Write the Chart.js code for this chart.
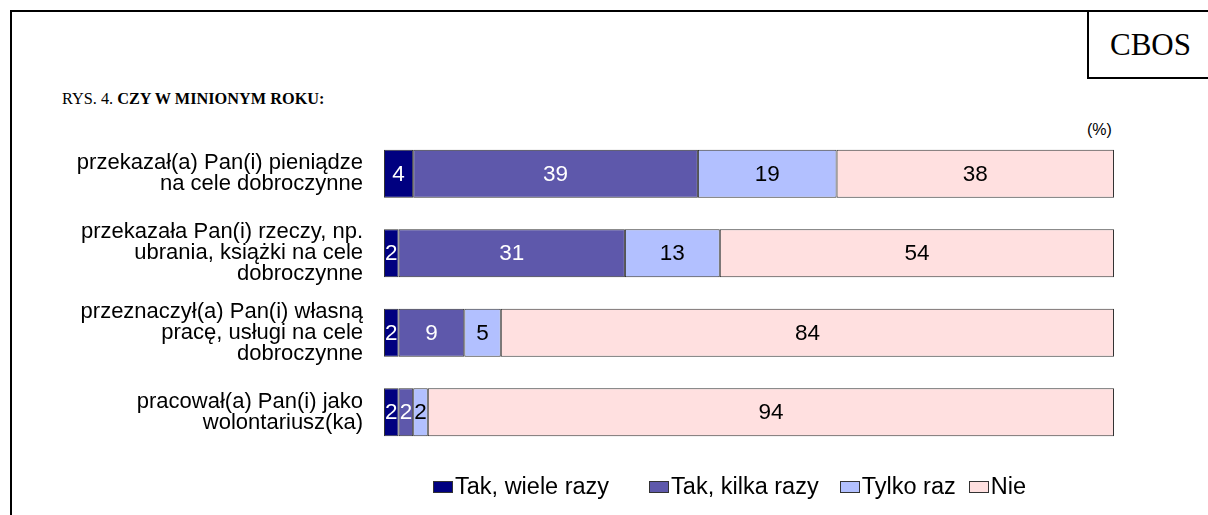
<!DOCTYPE html>
<html>
<head>
<meta charset="utf-8">
<script src="https://cdn.jsdelivr.net/npm/chart.js@4"></script>
<style>
   html, body { margin: 0; padding: 0; background: #fff; }
   body { width: 1208px; height: 515px; position: relative; overflow: hidden; }
   .frame { position: absolute; left: 10px; top: 10px; width: 1300px; height: 600px; border: 2px solid #000; }
   .cbos { position: absolute; left: 1087px; top: 10px; width: 200px; height: 65px; border: 2px solid #000;
           font-family: "Liberation Serif", "Times New Roman", serif; font-size: 31px; line-height: 65px; padding-left: 21px; }
   .title { position: absolute; left: 62px; top: 89px; font-family: "Liberation Serif", "Times New Roman", serif; font-size: 16.3px; }
   .unit { position: absolute; left: 1087px; top: 121px; font-family: "Liberation Sans", Arial, sans-serif; font-size: 16px; }
   #chart { position: absolute; left: 0; top: 0; }
   #legend { position: absolute; left: 433px; top: 474px; display: flex; align-items: center;
             font-family: "Liberation Sans", Arial, sans-serif; font-size: 23.5px; line-height: 25px; color: #000; }
   #legend .item { display: flex; align-items: center; }
   #legend .box { width: 18px; height: 10px; border: 1px solid #333; margin-right: 2px; }
</style>
</head>
<body>
<div class="frame"></div>
<div class="cbos">CBOS</div>
<div class="title">RYS. 4. <b>CZY W MINIONYM ROKU:</b></div>
<div class="unit">(%)</div>
<canvas id="chart" width="1208" height="515"></canvas>
<div id="legend"></div>
<script>
// pytania (kategorie osi Y)
const categories = [
   ['przekazał(a) Pan(i) pieniądze', 'na cele dobroczynne'],
   ['przekazała Pan(i) rzeczy, np.', 'ubrania, książki na cele', 'dobroczynne'],
   ['przeznaczył(a) Pan(i) własną', 'pracę, usługi na cele', 'dobroczynne'],
   ['pracował(a) Pan(i) jako', 'wolontariusz(ka)']
];

// odpowiedzi w %
const seriesNames = ['Tak, wiele razy', 'Tak, kilka razy', 'Tylko raz', 'Nie'];
const takWiele = [4, 2, 2, 2];
const takKilka = [39, 31, 9, 2];
const tylkoRaz = [19, 13, 5, 2];
const nie = [38, 54, 84, 94];

const colors = ['#000080', '#5E58AB', '#B2C0FF', '#FFE0E0'];
const labelColors = ['#fff', '#fff', '#000', '#000'];

const font = '"Liberation Sans", Arial, sans-serif';

// wartości w środku segmentów
const valueLabels = {
   id: 'valueLabels',
   afterDatasetsDraw(chart) {
      const ctx = chart.ctx;
      ctx.save();
      ctx.font = '22.5px ' + font;
      ctx.textAlign = 'center';
      ctx.textBaseline = 'middle';
      chart.data.datasets.forEach((ds, i) => {
         const meta = chart.getDatasetMeta(i);
         meta.data.forEach((bar, j) => {
            const p = bar.getProps(['x', 'y', 'base'], true);
            ctx.fillStyle = labelColors[i];
            ctx.fillText(ds.data[j], (p.x + p.base) / 2, p.y + 1);
         });
      });
      ctx.restore();
   }
};

const ctx = document.getElementById('chart').getContext('2d');
const chart = new Chart(ctx, {
   type: 'bar',
   data: {
      labels: categories,
      datasets: [takWiele, takKilka, tylkoRaz, nie].map((d, i) => ({
         label: seriesNames[i],
         data: d,
         backgroundColor: colors[i],
         borderColor: '#333',
         borderWidth: 1,
         borderSkipped: false,
         barPercentage: 0.605,
         categoryPercentage: 1
      }))
   },
   options: {
      indexAxis: 'y',
      responsive: false,
      animation: false,
      layout: { padding: { left: 10, right: 94, top: 134, bottom: 63 } },
      scales: {
         x: { stacked: true, min: 0, max: 100, display: false },
         y: {
            stacked: true,
            grid: { display: false, drawTicks: false },
            border: { display: false },
            afterFit: s => { s.width = 374; },
            ticks: {
               padding: 21,
               color: '#000',
               font: { family: font, size: 22, lineHeight: 0.95 }
            }
         }
      },
      plugins: {
         legend: { display: false },
         tooltip: { enabled: false }
      }
   },
   plugins: [valueLabels]
});

// legenda pod wykresem
const gaps = [40, 21, 13, 0];
const legend = document.getElementById('legend');
chart.data.datasets.forEach((ds, i) => {
   const item = document.createElement('div');
   item.className = 'item';
   item.style.marginRight = gaps[i] + 'px';
   const box = document.createElement('div');
   box.className = 'box';
   box.style.background = ds.backgroundColor;
   const txt = document.createElement('span');
   txt.textContent = ds.label;
   item.appendChild(box);
   item.appendChild(txt);
   legend.appendChild(item);
});
</script>
</body>
</html>
